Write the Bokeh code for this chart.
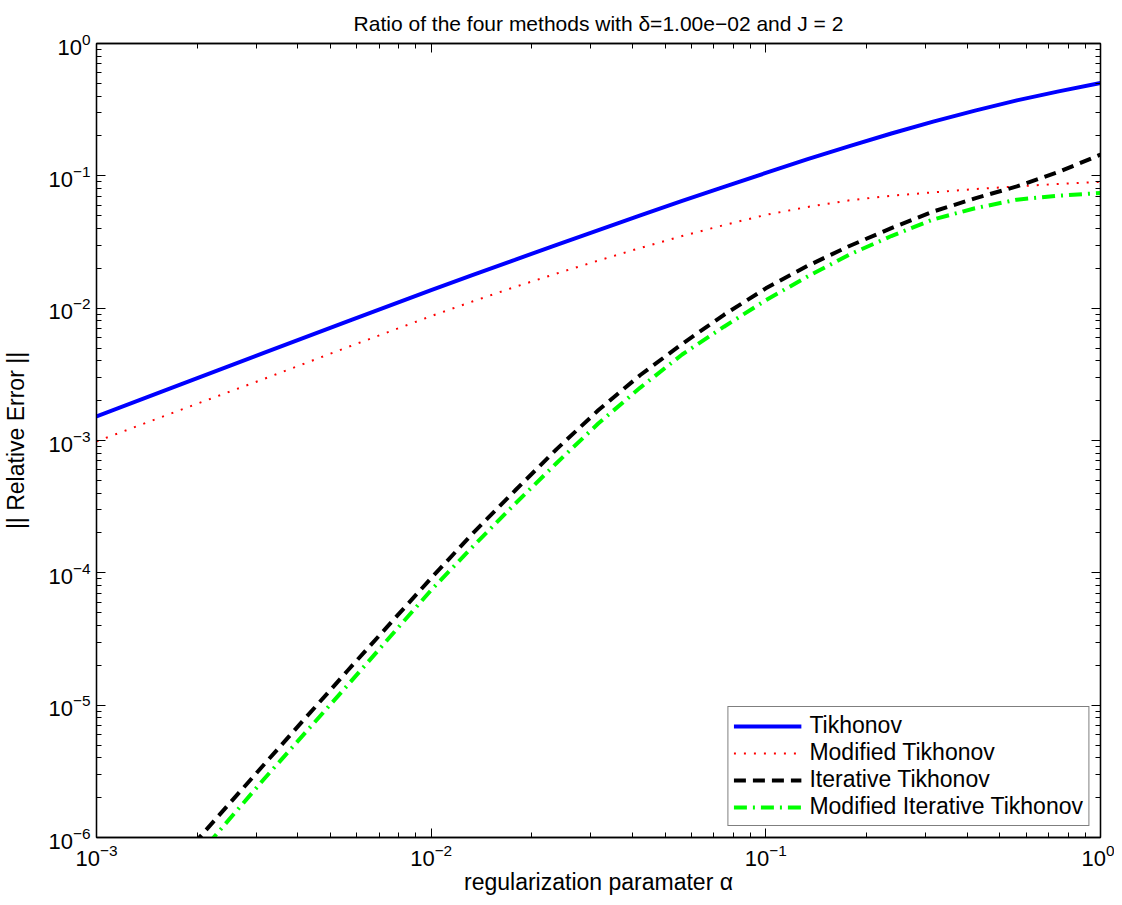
from bokeh.plotting import figure
from bokeh.models import LogAxis, FixedTicker, Range1d, Legend, LegendItem
from bokeh.embed import file_html
from bokeh.resources import INLINE

# ---- data (log10 values) ----
log_alpha = [-3.0, -2.75, -2.5, -2.25, -2.0, -1.875, -1.75, -1.625, -1.5,
             -1.375, -1.25, -1.125, -1.0, -0.875, -0.75, -0.625, -0.5,
             -0.375, -0.25, -0.125, 0.0]

log_tikhonov = [-2.818, -2.578, -2.338, -2.100, -1.863, -1.748, -1.635,
                -1.521, -1.410, -1.299, -1.190, -1.083, -0.978, -0.874,
                -0.775, -0.680, -0.590, -0.507, -0.430, -0.362, -0.299]

log_modified_tikhonov = [-3.007, -2.77, -2.535, -2.295, -2.06, -1.948, -1.84,
                         -1.738, -1.64, -1.545, -1.455, -1.372, -1.295, -1.235,
                         -1.185, -1.150, -1.125, -1.100, -1.08, -1.061, -1.045]

log_alpha_iter = [-2.71, -2.5, -2.25, -2.0, -1.875, -1.75, -1.625, -1.5,
                  -1.375, -1.25, -1.125, -1.0, -0.875, -0.75, -0.625, -0.5,
                  -0.375, -0.25, -0.125, 0.0]
log_iterative_tikhonov = [-6.05, -5.45, -4.74, -4.04, -3.70, -3.38, -3.065,
                          -2.77, -2.505, -2.27, -2.05, -1.85, -1.68, -1.53,
                          -1.395, -1.27, -1.17, -1.08, -0.97, -0.84]

log_alpha_mod_iter = [-2.667, -2.5, -2.25, -2.0, -1.875, -1.75, -1.625, -1.5,
                      -1.375, -1.25, -1.125, -1.0, -0.875, -0.75, -0.625, -0.5,
                      -0.375, -0.25, -0.125, 0.0]
log_modified_iterative_tikhonov = [-6.05, -5.56, -4.85, -4.13, -3.80, -3.48,
                                   -3.17, -2.87, -2.60, -2.35, -2.14, -1.94,
                                   -1.76, -1.595, -1.455, -1.33, -1.245, -1.18,
                                   -1.15, -1.13]

x_ticks = [1e-3, 1e-2, 1e-1, 1.0]
y_ticks = [1e-6, 1e-5, 1e-4, 1e-3, 1e-2, 1e-1, 1.0]

series_names = ["Tikhonov", "Modified Tikhonov", "Iterative Tikhonov",
                "Modified Iterative Tikhonov"]
title_text = "Ratio of the four methods with \u03b4=1.00e\u221202 and J = 2"


def unlog(v):
    return [10.0 ** a for a in v]


FONT = "Liberation Sans"

p = figure(width=1114, height=897, x_axis_type="log", y_axis_type="log",
           x_range=Range1d(1e-3, 1.0), y_range=Range1d(1e-6, 1.0),
           output_backend="svg", toolbar_location=None,
           min_border_left=96, min_border_right=14, min_border_top=42,
           min_border_bottom=60, title=title_text,
           x_axis_label="regularization paramater \u03b1",
           y_axis_label="|| Relative Error ||")

p.title.align = "center"
p.title.text_font = FONT
p.title.text_font_size = "21px"
p.title.text_font_style = "normal"
p.title.text_color = "black"
p.title.standoff = 18

p.xgrid.visible = False
p.ygrid.visible = False
p.outline_line_color = "black"
p.outline_line_width = 1.3
p.background_fill_color = "white"
p.border_fill_color = "white"


def minor_of(ticks):
    out = []
    for t in ticks[:-1]:
        for k in range(2, 10):
            out.append(t * k)
    return out


xticker = FixedTicker(ticks=x_ticks, minor_ticks=minor_of(x_ticks))
yticker = FixedTicker(ticks=y_ticks, minor_ticks=minor_of(y_ticks))


def style_axis(ax, show_labels=True):
    ax.axis_line_color = "black"
    ax.axis_line_width = 1.3
    ax.major_tick_line_color = "black"
    ax.minor_tick_line_color = "black"
    ax.major_tick_in = 9
    ax.major_tick_out = 0
    ax.minor_tick_in = 5
    ax.minor_tick_out = 0
    ax.major_tick_line_width = 1
    ax.minor_tick_line_width = 1
    ax.major_label_text_font = FONT
    ax.axis_label_text_font = FONT
    ax.axis_label_text_font_style = "normal"
    ax.axis_label_text_color = "black"
    ax.axis_label_text_font_size = "23px"
    if show_labels:
        ax.major_label_text_font_size = "22px"
        ax.major_label_text_color = "black"
    else:
        ax.major_label_text_font_size = "2px"
        ax.major_label_text_color = None
        ax.major_label_standoff = 0


p.xaxis.ticker = xticker
p.yaxis.ticker = yticker
style_axis(p.xaxis[0])
style_axis(p.yaxis[0])
p.xaxis.major_label_standoff = 6
p.xaxis.axis_label_standoff = 0
p.yaxis.major_label_standoff = 6
p.yaxis.axis_label_standoff = 16

top = LogAxis(ticker=xticker)
style_axis(top, show_labels=False)
right = LogAxis(ticker=yticker)
style_axis(right, show_labels=False)
p.add_layout(top, "above")
p.add_layout(right, "right")

r1 = p.line(unlog(log_alpha), unlog(log_tikhonov), line_color="#0000FF",
            line_width=4)
r2 = p.line(unlog(log_alpha), unlog(log_modified_tikhonov), line_color="#FF0000",
            line_width=2, line_dash="2 8")
r3 = p.line(unlog(log_alpha_iter), unlog(log_iterative_tikhonov),
            line_color="black", line_width=4, line_dash="12 7")
r4 = p.line(unlog(log_alpha_mod_iter), unlog(log_modified_iterative_tikhonov),
            line_color="#00FF00", line_width=4, line_dash="13 6 2 6")

legend = Legend(items=[
    LegendItem(label=series_names[0], renderers=[r1]),
    LegendItem(label=series_names[1], renderers=[r2]),
    LegendItem(label=series_names[2], renderers=[r3]),
    LegendItem(label=series_names[3], renderers=[r4]),
], location="bottom_right")
legend.margin = 11
legend.padding = 5
legend.spacing = 0
legend.glyph_width = 68
legend.glyph_height = 26
legend.label_height = 26
legend.label_standoff = 8
legend.label_text_font = FONT
legend.label_text_font_size = "23px"
legend.label_text_color = "black"
legend.border_line_color = "black"
legend.border_line_width = 1.3
legend.background_fill_alpha = 1.0
p.add_layout(legend, "center")

open("out.html", "w").write(file_html(p, INLINE))
